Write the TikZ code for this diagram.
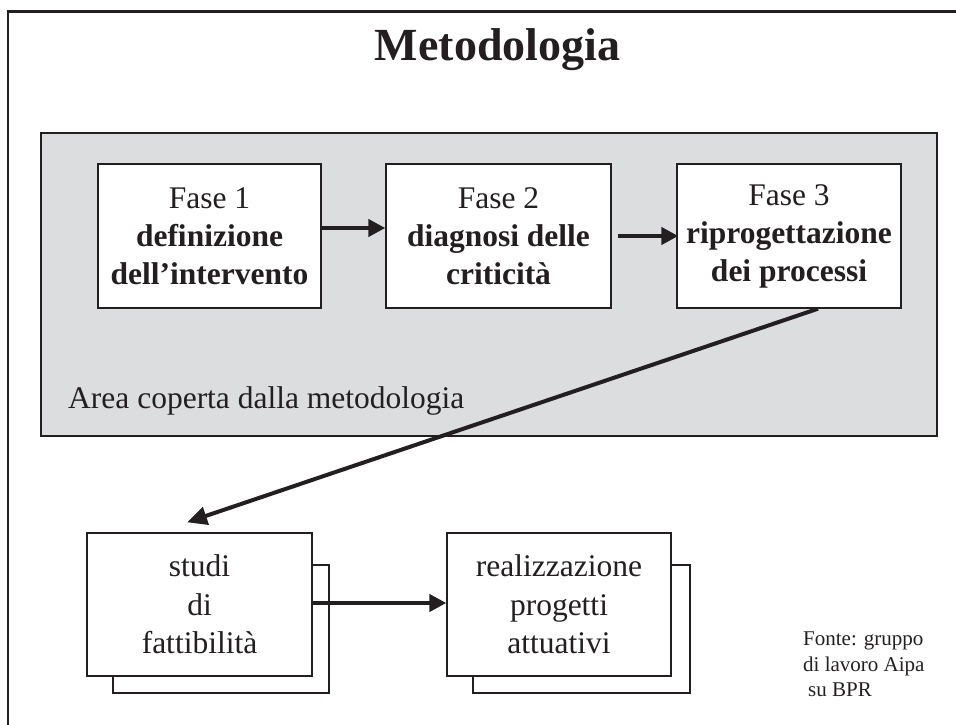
\documentclass[tikz,border=0pt]{standalone}
\usepackage{fontspec}
\setmainfont{Liberation Serif}
\usetikzlibrary{arrows.meta}
\definecolor{ink}{RGB}{35,31,32}
\definecolor{areagray}{RGB}{220,221,223}
\tikzset{
  phasebox/.style={draw=ink, line width=1.4pt, fill=white, minimum width=#1, minimum height=144pt, inner sep=0pt, align=center, text=ink, font={\fontsize{31.5}{38}\selectfont}},
  outbox/.style={draw=ink, line width=1.4pt, fill=white, minimum width=#1, minimum height=143pt, inner sep=0pt, align=center, text=ink, font={\fontsize{31.5}{38.5}\selectfont}},
  shadowbox/.style={draw=ink, line width=1.4pt, fill=white},
  flow/.style={draw=ink, line width=4.5pt, -{Triangle[length=17pt,width=17pt]}},
  longflow/.style={draw=ink, line width=4pt, -{Triangle[length=20pt,width=18pt]}}
}
\begin{document}
\begin{tikzpicture}[x=1pt,y=-1pt]
\useasboundingbox (0,0) rectangle (956,725);
\begin{scope}
\clip (0,0) rectangle (956,725);
\draw[ink, line width=2.2pt] (8,11.5) rectangle (1000,800);
\end{scope}
\node[anchor=base, text=ink, font={\fontsize{46}{50}\selectfont\bfseries}] (title) at (497.5,61) {Metodologia};
\draw[ink, line width=1.4pt, fill=areagray] (41,133) rectangle (937,436);
\node[phasebox=223pt] (f1) at (209.5,236) {Fase 1\\\textbf{definizione}\\\textbf{dell’intervento}};
\node[phasebox=225pt] (f2) at (498.5,236) {Fase 2\\\textbf{diagnosi delle}\\\textbf{criticità}};
\node[phasebox=224pt] (f3) at (789,236) {Fase 3\\\textbf{riprogettazione}\\\textbf{dei processi}};
\node[anchor=base west, inner sep=0pt, text=ink, font={\fontsize{31.5}{38}\selectfont}] (area) at (68,408) {Area coperta dalla metodologia};
\draw[shadowbox] (113,565) rectangle (329,693);
\draw[shadowbox] (473,565) rectangle (690,693);
\node[outbox=225pt] (s) at (199.5,604.5) {studi\\di\\fattibilità};
\node[outbox=224pt] (r) at (559,604.5) {realizzazione\\progetti\\attuativi};
\node[anchor=north west, inner sep=0pt, align=left, text=ink, font={\fontsize{21}{25.5}\selectfont}] (fonte) at (803,632) {Fonte: gruppo\\di lavoro Aipa\\\hspace*{5pt}su BPR};
\draw[flow] ([yshift=8pt]f1.east) -- ([yshift=8pt]f2.west);
\draw[flow] ([xshift=6pt]f2.east) -- ([xshift=2pt]f3.west);
\draw[longflow] ([xshift=29pt]f3.south) -- ([xshift=-12.5pt,yshift=10pt]s.north);
\draw[flow] ([yshift=1.5pt]s.east) -- ([yshift=1.5pt]r.west);
\end{tikzpicture}
\end{document}
